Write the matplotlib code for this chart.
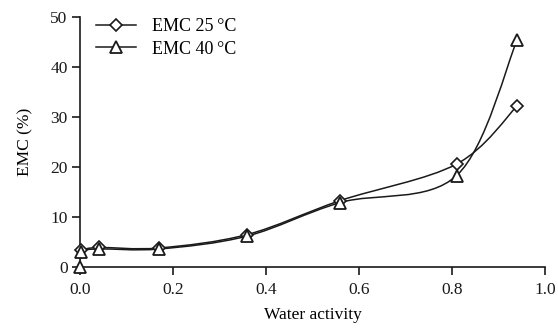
import numpy as np
import matplotlib
matplotlib.use("Agg")
import matplotlib.pyplot as plt
from matplotlib.path import Path
from matplotlib.patches import PathPatch
from matplotlib.lines import Line2D

# Data
aw_25 = [0.003, 0.04, 0.17, 0.36, 0.56, 0.81, 0.94]
emc_25 = [3.4, 3.9, 3.8, 6.5, 13.3, 20.6, 32.2]
aw_40 = [0.0, 0.003, 0.04, 0.17, 0.36, 0.56, 0.81, 0.94]
emc_40 = [0.0, 3.0, 3.6, 3.6, 6.2, 12.9, 18.3, 45.4]
x_ticks = [0.0, 0.2, 0.4, 0.6, 0.8, 1.0]
y_ticks = [0, 10, 20, 30, 40, 50]
labels = ["EMC 25\u2009\u00b0C", "EMC 40\u2009\u00b0C"]

plt.rcParams['font.family'] = ['Liberation Serif', 'DejaVu Serif']
plt.rcParams['font.size'] = 12

fig = plt.figure(figsize=(5.58, 3.28), dpi=100)
ax = fig.add_axes([0.1434, 0.186, 0.8333, 0.762])
ax.set_xlim(0, 1.0)
ax.set_ylim(0, 50)


def smooth_path(xs, ys):
    # Catmull-Rom style smoothing computed in display coordinates
    pts = ax.transData.transform(np.column_stack([xs, ys]))
    n = len(pts)
    verts = [pts[0]]
    codes = [Path.MOVETO]
    for i in range(n - 1):
        p0 = pts[i - 1] if i > 0 else pts[i]
        p1 = pts[i]
        p2 = pts[i + 1]
        p3 = pts[i + 2] if i + 2 < n else pts[i + 1]
        c1 = p1 + (p2 - p0) / 6.0
        c2 = p2 - (p3 - p1) / 6.0
        verts += [c1, c2, p2]
        codes += [Path.CURVE4] * 3
    verts = ax.transData.inverted().transform(np.array(verts))
    return Path(verts, codes)


for xs, ys in [(aw_25, emc_25), (aw_40, emc_40)]:
    patch = PathPatch(smooth_path(xs, ys), facecolor='none', edgecolor='#1a1a1a',
                      lw=1.1, transform=ax.transData, zorder=2)
    ax.add_patch(patch)

ax.plot(aw_25, emc_25, ls='none', marker='D', ms=6.5, mfc='white', mec='#1a1a1a',
        mew=1.2, clip_on=False, zorder=3)
ax.plot(aw_40, emc_40, ls='none', marker='^', ms=9, mfc='white', mec='#1a1a1a',
        mew=1.3, clip_on=False, zorder=4)

for s in ['top', 'right']:
    ax.spines[s].set_visible(False)
for s in ['left', 'bottom']:
    ax.spines[s].set_linewidth(1.2)
    ax.spines[s].set_color('#1a1a1a')

ax.set_xticks(x_ticks)
ax.set_xticklabels([f"{v:.1f}" for v in x_ticks])
ax.set_yticks(y_ticks)
ax.set_yticklabels([str(v) for v in y_ticks])
ax.tick_params(direction='out', length=6, width=1.2, colors='#1a1a1a', labelsize=12.5, pad=3)
ax.tick_params(axis='x', pad=5)

ax.set_xlabel("Water activity", fontsize=12.5, labelpad=6)
ax.set_ylabel("EMC (%)", fontsize=12.5, labelpad=12)

handles = [
    Line2D([], [], color='#1a1a1a', lw=1.1, marker='D', ms=6.5, mfc='white', mec='#1a1a1a', mew=1.2),
    Line2D([], [], color='#1a1a1a', lw=1.1, marker='^', ms=9, mfc='white', mec='#1a1a1a', mew=1.3),
]
ax.legend(handles, labels, loc='upper left', bbox_to_anchor=(0.0, 1.06), frameon=False,
          handlelength=2.2, handletextpad=0.9, labelspacing=0.3, fontsize=13)

fig.savefig("out.png", dpi=100)
